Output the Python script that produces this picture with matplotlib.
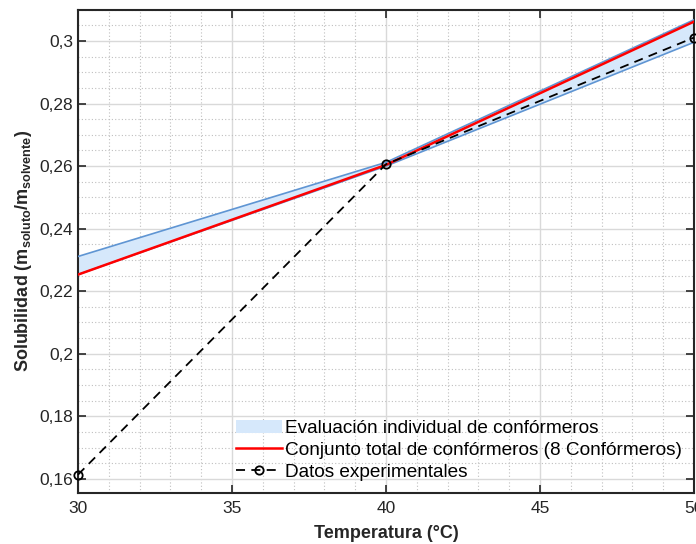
import matplotlib
matplotlib.use("Agg")
import matplotlib.pyplot as plt
from matplotlib.ticker import MultipleLocator, FuncFormatter

temperatura = [30, 40, 50]
exp_sol = [0.1613, 0.2606, 0.3011]
total_sol = [0.2253, 0.2604, 0.3062]
banda_sup = [0.2311, 0.2612, 0.3068]
banda_inf = [0.2253, 0.2600, 0.2996]

plt.rcParams['font.family'] = ['Liberation Sans', 'DejaVu Sans']
plt.rcParams['mathtext.fontset'] = 'custom'
plt.rcParams['mathtext.bf'] = 'Liberation Sans:bold'

fig = plt.figure(figsize=(6.96, 5.44), dpi=100)
ax = fig.add_axes([0.112, 0.094, 0.885, 0.888])

ax.fill_between(temperatura, banda_inf, banda_sup, facecolor='#d6e8fb', edgecolor='none',
                label='Evaluación individual de confórmeros', zorder=2)
ax.plot(temperatura, banda_sup, color='#5f95d3', lw=1.2, zorder=3)
ax.plot(temperatura, banda_inf, color='#5f95d3', lw=1.2, zorder=3)
ax.plot(temperatura, total_sol, color='#ff0000', lw=1.8, zorder=4,
        label='Conjunto total de confórmeros (8 Confórmeros)')
ax.plot(temperatura, exp_sol, color='black', ls=(0, (5, 3.5)), lw=1.3, marker='o', ms=6,
        mfc='none', mec='black', mew=1.3, zorder=5, label='Datos experimentales',
        clip_on=False)

ax.set_xlim(30, 50)
ax.set_ylim(0.1555, 0.31)
ax.xaxis.set_major_locator(MultipleLocator(5))
ax.xaxis.set_minor_locator(MultipleLocator(1))
ax.yaxis.set_major_locator(MultipleLocator(0.02))
ax.yaxis.set_minor_locator(MultipleLocator(0.005))

def fmt(v, pos):
    s = ('%.2f' % v).rstrip('0').rstrip('.')
    return s.replace('.', ',')
ax.yaxis.set_major_formatter(FuncFormatter(fmt))
ax.xaxis.set_major_formatter(FuncFormatter(lambda v, p: '%d' % v))

ax.grid(which='major', color='#d9d9d9', lw=1.0, ls='-', zorder=0)
ax.grid(which='minor', color='#bfbfbf', lw=0.8, ls=(0, (1, 2)), zorder=0)
ax.set_axisbelow(True)

ax.tick_params(which='both', direction='in', top=True, right=True,
               labelsize=12.5, colors='#262626')
ax.tick_params(which='major', length=6, width=1.2)
ax.tick_params(axis='x', which='major', pad=6)
ax.tick_params(which='minor', length=0)
for s in ax.spines.values():
    s.set_color('#262626')
    s.set_linewidth(1.5)

ax.set_xlabel('Temperatura (°C)', fontsize=13, fontweight='bold', color='#262626', labelpad=6)
ax.set_ylabel(r'Solubilidad (m$_{\mathbf{soluto}}$/m$_{\mathbf{solvente}}$)', fontsize=13,
              fontweight='bold', color='#262626', labelpad=4)

leg = ax.legend(loc='lower right', frameon=False, fontsize=13.7, handlelength=2.4,
                handletextpad=0.15, borderaxespad=0.3, labelspacing=0.25,
                bbox_to_anchor=(1.002, -0.003))

fig.savefig('out.png', dpi=100)
